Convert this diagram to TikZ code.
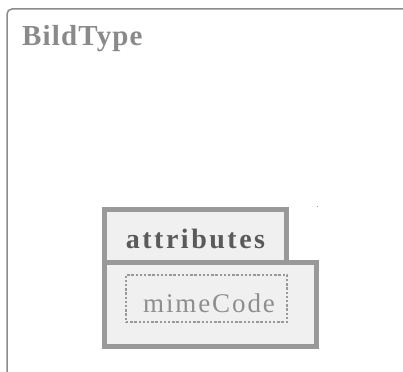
\documentclass[tikz,border=0pt]{standalone}
\usepackage{fontspec}
\setmainfont{Liberation Serif}
\definecolor{framegray}{HTML}{8C8C8C}
\definecolor{titlegray}{HTML}{8A8A8A}
\definecolor{boxborder}{HTML}{999999}
\definecolor{boxfill}{HTML}{F0F0F0}
\definecolor{attrtext}{HTML}{5A5A5A}
\definecolor{mimetext}{HTML}{8E8E8E}
\tikzset{
  outerframe/.style={draw=framegray, line width=1.5pt, rounded corners=5pt},
  classbox/.style={draw=boxborder, fill=boxfill, line width=5pt, line join=miter},
  titletext/.style={anchor=base west, inner sep=0pt, text=titlegray,
    font=\fontsize{29}{32}\selectfont\bfseries\addfontfeature{LetterSpace=4}},
  compartment/.style={anchor=base, inner sep=0pt, text=attrtext,
    font=\fontsize{28}{32}\selectfont\bfseries\addfontfeature{LetterSpace=9}},
  attrbox/.style={draw=boxborder, line width=2.5pt, dash pattern=on 2.4pt off 1.8pt, inner sep=0pt},
  attrtextstyle/.style={anchor=base, inner sep=0pt, text=mimetext,
    font=\fontsize{27}{30}\selectfont\addfontfeature{LetterSpace=7}},
}
\begin{document}
\begin{tikzpicture}[x=1pt, y=-1pt]
  \useasboundingbox (0,0) rectangle (403,371);
  \begin{scope}
    \clip (0,0) rectangle (403,371);
    \draw[outerframe] (7,380) -- (7,9) -- (410,9);
  \end{scope}
  \node[titletext] (title) at (22,45.5) {BildType};
  % class box with tab
  \draw[classbox] (104.5,346.5) -- (104.5,209.5) -- (286.5,209.5) -- (286.5,262.5)
    -- (316,262.5) -- (316,346.5) -- cycle;
  \coordinate (sepL) at (104.5,262.5);
  \coordinate (sepR) at (286.5,262.5);
  \draw[draw=boxborder, line width=5pt] (sepL) -- (sepR);
  \fill[boxborder] (316.5,205.5) rectangle (318,207) coordinate (dot);
  \node[compartment] (attrs) at (195.5,248.5) {attributes};
  \node[attrbox, minimum width=161pt, minimum height=47pt] (mimebox) at (206.5,298.5) {};
  \node[attrtextstyle] (mime) at (209,312) {mimeCode};
\end{tikzpicture}
\end{document}
